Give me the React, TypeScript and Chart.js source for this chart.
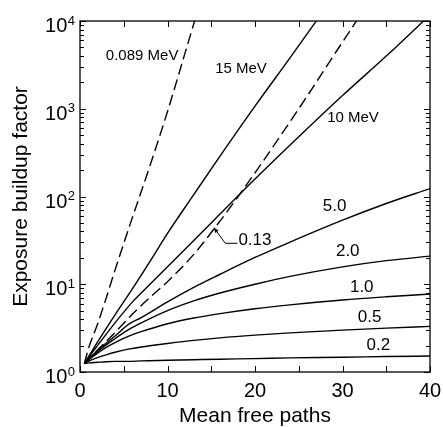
import React, { useEffect, useRef } from "react";
import { Chart, registerables } from "chart.js";

Chart.register(...registerables);

// ---- data (mean free paths vs exposure buildup factor) ----
const mfpA = [0.5, 1, 2, 3, 4, 5.5, 7, 10, 13, 16, 20, 24, 30, 35, 40];
const b02 = [1.25, 1.27, 1.29, 1.31, 1.32, 1.32, 1.34, 1.36, 1.38, 1.4, 1.42, 1.45, 1.47, 1.5, 1.52];
const b05 = [1.25, 1.33, 1.46, 1.57, 1.68, 1.82, 1.93, 2.11, 2.29, 2.45, 2.63, 2.79, 3.0, 3.16, 3.31];
const b10 = [1.25, 1.38, 1.64, 1.91, 2.16, 2.54, 2.88, 3.55, 4.12, 4.62, 5.25, 5.82, 6.61, 7.19, 7.74];
const b20 = [1.25, 1.41, 1.72, 2.04, 2.4, 3.02, 3.63, 5.01, 6.46, 7.94, 10, 12.3, 15.8, 18.6, 20.9];
const b50 = [1.25, 1.41, 1.76, 2.14, 2.57, 3.47, 4.17, 6.31, 9.23, 13.0, 20.2, 30.2, 53.7, 83.2, 123];

const mfp10MeV = [0.5, 1, 2, 4, 6, 8, 10, 13, 16, 20, 25, 30, 35, 40];
const b10MeV = [1.25, 1.48, 2.0, 3.63, 6.3, 10, 15.8, 31.6, 63, 158, 479, 1413, 3981, 11750];

const mfp15MeV = [0.5, 1, 2, 4, 6, 8, 10, 13, 16, 20, 24, 28];
const b15MeV = [1.25, 1.51, 2.19, 4.47, 8.9, 18.2, 38, 105, 288, 1070, 3800, 13800];

const mfp013 = [0.5, 2, 4, 6, 8, 10, 13, 16, 18, 20, 25, 30, 32];
const b013 = [1.25, 1.78, 2.82, 4.57, 7.08, 10.7, 21.9, 52.5, 97.7, 186, 1000, 5750, 11500];

const mfp089 = [0.5, 1, 2, 3, 4, 6, 8, 10, 12, 14];
const b089 = [1.25, 1.9, 3.5, 7.0, 14.5, 58, 225, 930, 4300, 20000];

const xTickValues = [0, 5, 10, 15, 20, 25, 30, 35, 40];
const xTickLabels = [0, 10, 20, 30, 40];
const yDecades = [0, 1, 2, 3, 4];

// curve labels: text, x (mfp), y (buildup), font size
const curveLabels: [string, number, number, number][] = [
  ["0.089 MeV", 7.1, 4046, 15],
  ["15 MeV", 18.4, 2812, 15],
  ["10 MeV", 31.2, 778, 15],
  ["5.0", 29.1, 77.3, 17],
  ["2.0", 30.6, 23.7, 17],
  ["1.0", 32.2, 9.2, 17],
  ["0.5", 33.1, 4.2, 17],
  ["0.2", 34.1, 2.01, 17],
];
const label013: [string, number, number] = ["0.13", 18.1, 31.7];
const leader013: [number, number][] = [[18.0, 29.3], [16.6, 29.3], [15.65, 39.5]];
const leaderTip013: [number, number] = [15.25, 45];

const FONT = '"Liberation Sans", Arial, Helvetica, sans-serif';

function pts(xs: number[], ys: number[]) {
  return xs.map((x, i) => ({ x, y: ys[i] }));
}

const decor = {
  id: "decor",
  afterDatasetsDraw(chart: any) {
    const ctx = chart.ctx as CanvasRenderingContext2D;
    const { left, right, top, bottom } = chart.chartArea;
    const xs = chart.scales.x;
    const ys = chart.scales.y;
    ctx.save();
    ctx.strokeStyle = "#000";
    ctx.fillStyle = "#000";
    ctx.lineWidth = 1.3;
    ctx.strokeRect(left, top, right - left, bottom - top);

    // x ticks (bottom and top, inward)
    ctx.lineWidth = 1;
    for (const v of xTickValues) {
      const px = Math.round(xs.getPixelForValue(v)) + 0.5;
      ctx.beginPath();
      ctx.moveTo(px, bottom);
      ctx.lineTo(px, bottom - 6);
      ctx.moveTo(px, top);
      ctx.lineTo(px, top + 6);
      ctx.stroke();
    }
    // y ticks (left and right, inward)
    for (const d of yDecades) {
      for (let m = 1; m <= 9; m++) {
        const val = m * Math.pow(10, d);
        if (val > 10000) break;
        const py = Math.round(ys.getPixelForValue(val)) + 0.5;
        const len = m === 1 ? 6 : 4;
        ctx.beginPath();
        ctx.moveTo(left, py);
        ctx.lineTo(left + len, py);
        ctx.moveTo(right, py);
        ctx.lineTo(right - len, py);
        ctx.stroke();
      }
    }

    // x tick labels
    ctx.font = `20px ${FONT}`;
    ctx.textAlign = "center";
    ctx.textBaseline = "top";
    for (const v of xTickLabels) {
      ctx.fillText(String(v), xs.getPixelForValue(v), bottom + 9);
    }
    // y tick labels 10^n
    for (const d of yDecades) {
      const py = ys.getPixelForValue(Math.pow(10, d));
      ctx.font = `13px ${FONT}`;
      ctx.textAlign = "right";
      ctx.textBaseline = "alphabetic";
      const supW = ctx.measureText(String(d)).width;
      ctx.fillText(String(d), left - 5, py + 3.5);
      ctx.font = `20px ${FONT}`;
      ctx.fillText("10", left - 5 - supW - 0.5, py + 11);
    }

    // axis titles
    ctx.font = `21px ${FONT}`;
    ctx.textAlign = "center";
    ctx.textBaseline = "alphabetic";
    ctx.fillText("Mean free paths", (left + right) / 2, 422);
    ctx.save();
    ctx.translate(27, (top + bottom) / 2);
    ctx.rotate(-Math.PI / 2);
    ctx.fillText("Exposure buildup factor", 0, 0);
    ctx.restore();

    // curve labels
    ctx.textAlign = "center";
    ctx.textBaseline = "middle";
    for (const [t, x, y, s] of curveLabels) {
      ctx.font = `${s}px ${FONT}`;
      ctx.fillText(t, xs.getPixelForValue(x), ys.getPixelForValue(y));
    }
    // 0.13 label with leader and arrow
    ctx.font = `17px ${FONT}`;
    ctx.textAlign = "left";
    ctx.fillText(label013[0], xs.getPixelForValue(label013[1]), ys.getPixelForValue(label013[2]));
    ctx.lineWidth = 1;
    ctx.beginPath();
    leader013.forEach(([x, y], i) => {
      const px = xs.getPixelForValue(x);
      const py = ys.getPixelForValue(y);
      if (i === 0) ctx.moveTo(px, py);
      else ctx.lineTo(px, py);
    });
    ctx.stroke();
    const [lx, ly] = leader013[leader013.length - 1];
    const bx = xs.getPixelForValue(lx);
    const by = ys.getPixelForValue(ly);
    const tx = xs.getPixelForValue(leaderTip013[0]);
    const ty = ys.getPixelForValue(leaderTip013[1]);
    const ang = Math.atan2(ty - by, tx - bx);
    const nx = -Math.sin(ang) * 2;
    const ny = Math.cos(ang) * 2;
    ctx.beginPath();
    ctx.moveTo(tx, ty);
    ctx.lineTo(bx + nx, by + ny);
    ctx.lineTo(bx - nx, by - ny);
    ctx.closePath();
    ctx.fill();
    ctx.restore();
  },
};

export default function App() {
  const ref = useRef<HTMLCanvasElement | null>(null);
  useEffect(() => {
    if (!ref.current) return;
    const solid = (xs: number[], ys: number[]) => ({
      data: pts(xs, ys),
      borderColor: "#000",
      borderWidth: 1.4,
      pointRadius: 0,
      fill: false,
      cubicInterpolationMode: "monotone" as const,
    });
    const dashed = (xs: number[], ys: number[]) => ({
      ...solid(xs, ys),
      borderDash: [11, 5],
    });
    const chart = new Chart(ref.current, {
      type: "line",
      data: {
        datasets: [
          solid(mfpA, b02),
          solid(mfpA, b05),
          solid(mfpA, b10),
          solid(mfpA, b20),
          solid(mfpA, b50),
          solid(mfp10MeV, b10MeV),
          solid(mfp15MeV, b15MeV),
          dashed(mfp013, b013),
          dashed(mfp089, b089),
        ] as any,
      },
      options: {
        animation: false,
        responsive: false,
        devicePixelRatio: 1,
        layout: { padding: { left: 80, right: 13, top: 21, bottom: 55 } },
        plugins: { legend: { display: false }, tooltip: { enabled: false } },
        scales: {
          x: { type: "linear", min: 0, max: 40, display: false },
          y: { type: "logarithmic", min: 1, max: 10000, display: false },
        },
      },
      plugins: [decor],
    });
    return () => chart.destroy();
  }, []);
  return (
    <div style={{ position: "absolute", left: 0, top: 0, width: 443, height: 427, background: "#fff" }}>
      <canvas ref={ref} width={443} height={427} />
    </div>
  );
}
